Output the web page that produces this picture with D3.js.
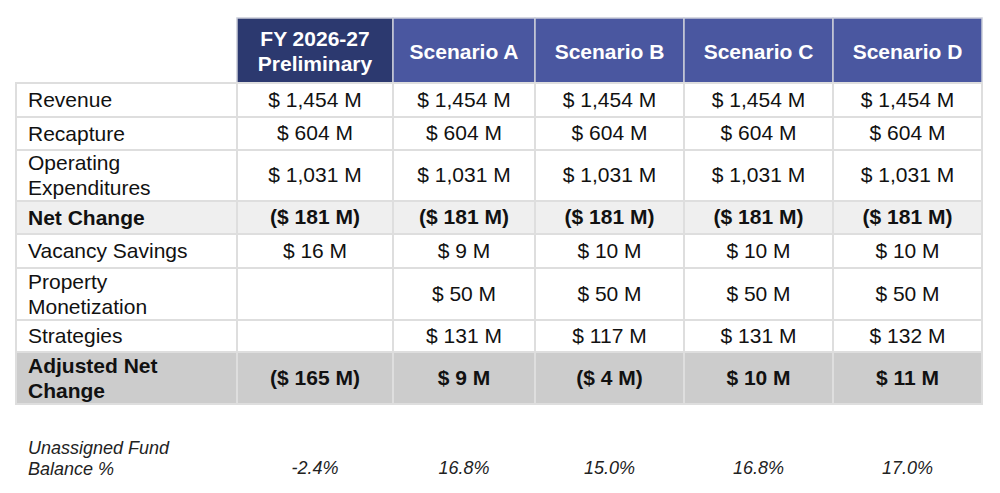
<!DOCTYPE html>
<html>
<head>
<meta charset="utf-8">
<script src="https://cdn.jsdelivr.net/npm/d3@7"></script>
<style>
  body { margin: 0; background: #fff; }
  text { font-family: "Liberation Sans", Arial, Helvetica, sans-serif; }
</style>
</head>
<body>
<svg id="tbl" width="1000" height="493"></svg>
<script>
/* data
============================================= */
var columns = ["FY 2026-27\nPreliminary", "Scenario A", "Scenario B", "Scenario C", "Scenario D"];
var rowLabels = ["Revenue", "Recapture", "Operating\nExpenditures", "Net Change",
                 "Vacancy Savings", "Property\nMonetization", "Strategies", "Adjusted Net\nChange"];

var revenue     = [1454, 1454, 1454, 1454, 1454];
var recapture   = [604, 604, 604, 604, 604];
var operating   = [1031, 1031, 1031, 1031, 1031];
var netChange   = [-181, -181, -181, -181, -181];
var vacancy     = [16, 9, 10, 10, 10];
var property    = [null, 50, 50, 50, 50];
var strategies  = [null, 131, 117, 131, 132];
var adjusted    = [-165, 9, -4, 10, 11];
var fundBalance = [-2.4, 16.8, 15.0, 16.8, 17.0];

var footLabel = "Unassigned Fund\nBalance %";

/* layout
============================================= */
var svg = d3.select("#tbl");
var colEdges = [16, 237, 393, 535, 684, 833, 982];
var rowEdges = [18, 83, 117, 150, 201, 234, 268, 320, 352, 404];
var rowValues = [revenue, recapture, operating, netChange, vacancy, property, strategies, adjusted];
var boldRows = [3, 7];
var rowFill = ["#ffffff", "#ffffff", "#ffffff", "#efefef", "#ffffff", "#ffffff", "#ffffff", "#cccccc"];

var x = d3.scaleOrdinal().domain(d3.range(colEdges.length)).range(colEdges);
var y = d3.scaleOrdinal().domain(d3.range(rowEdges.length)).range(rowEdges);

var fmtNum = d3.format(",");
function fmtMoney(v) {
    if (v == null) return "";
    if (v < 0) return "($ " + fmtNum(-v) + " M)";
    return "$ " + fmtNum(v) + " M";
}
// plain hyphen for negatives, like the source
function fmtPct(v) {
    return (v < 0 ? "-" : "") + d3.format(".1f")(Math.abs(v)) + "%";
}

function multiLine(sel, str, lineH) {
    var lines = str.split("\n");
    var off = -(lines.length - 1) * lineH / 2;
    sel.selectAll("tspan")
        .data(lines)
        .enter()
        .append("tspan")
        .attr("x", sel.attr("x"))
        .attr("dy", function(d, i) { return i === 0 ? off : lineH; })
        .text(function(d) { return d; });
}

/* header
============================================= */
var head = svg.append("g");
columns.forEach(function(c, i) {
    var x0 = x(i + 1), x1 = x(i + 2);
    head.append("rect")
        .attr("x", x0).attr("y", y(0))
        .attr("width", x1 - x0).attr("height", y(1) - y(0))
        .attr("fill", i === 0 ? "#2c396f" : "#4a57a0")
        .attr("stroke", "#c9ccd8").attr("stroke-width", 1.5);
    var t = head.append("text")
        .attr("x", (x0 + x1) / 2)
        .attr("y", (y(0) + y(1)) / 2)
        .attr("text-anchor", "middle")
        .attr("dominant-baseline", "central")
        .attr("font-size", 21)
        .attr("font-weight", "bold")
        .attr("fill", "#ffffff");
    multiLine(t, c, 25);
});

/* body
============================================= */
var body = svg.append("g");
rowLabels.forEach(function(lab, r) {
    var y0 = y(r + 1), y1 = y(r + 2);
    var bold = boldRows.indexOf(r) >= 0;
    for (var c = 0; c < 6; c++) {
        body.append("rect")
            .attr("x", x(c)).attr("y", y0)
            .attr("width", x(c + 1) - x(c)).attr("height", y1 - y0)
            .attr("fill", rowFill[r])
            .attr("stroke", "#dedede").attr("stroke-width", 2);
    }
    var t = body.append("text")
        .attr("x", 28)
        .attr("y", (y0 + y1) / 2 - 1)
        .attr("dominant-baseline", "central")
        .attr("font-size", 21)
        .attr("font-weight", bold ? "bold" : "normal")
        .attr("fill", "#111");
    multiLine(t, lab, 25);

    rowValues[r].forEach(function(v, c) {
        body.append("text")
            .attr("x", (x(c + 1) + x(c + 2)) / 2)
            .attr("y", (y0 + y1) / 2 - 1)
            .attr("text-anchor", "middle")
            .attr("dominant-baseline", "central")
            .attr("font-size", 21)
            .attr("font-weight", bold ? "bold" : "normal")
            .attr("fill", "#111")
            .text(fmtMoney(v));
    });
});

/* footer
============================================= */
var foot = svg.append("g");
var ft = foot.append("text")
    .attr("x", 28)
    .attr("y", 458)
    .attr("dominant-baseline", "central")
    .attr("font-size", 18)
    .attr("font-style", "italic")
    .attr("fill", "#222");
multiLine(ft, footLabel, 21);

foot.selectAll("text.pct")
    .data(fundBalance)
    .enter()
    .append("text")
    .attr("class", "pct")
    .attr("x", function(d, i) { return (x(i + 1) + x(i + 2)) / 2; })
    .attr("y", 468)
    .attr("text-anchor", "middle")
    .attr("dominant-baseline", "central")
    .attr("font-size", 18)
    .attr("font-style", "italic")
    .attr("fill", "#222")
    .text(function(d) { return fmtPct(d); });
</script>
</body>
</html>
